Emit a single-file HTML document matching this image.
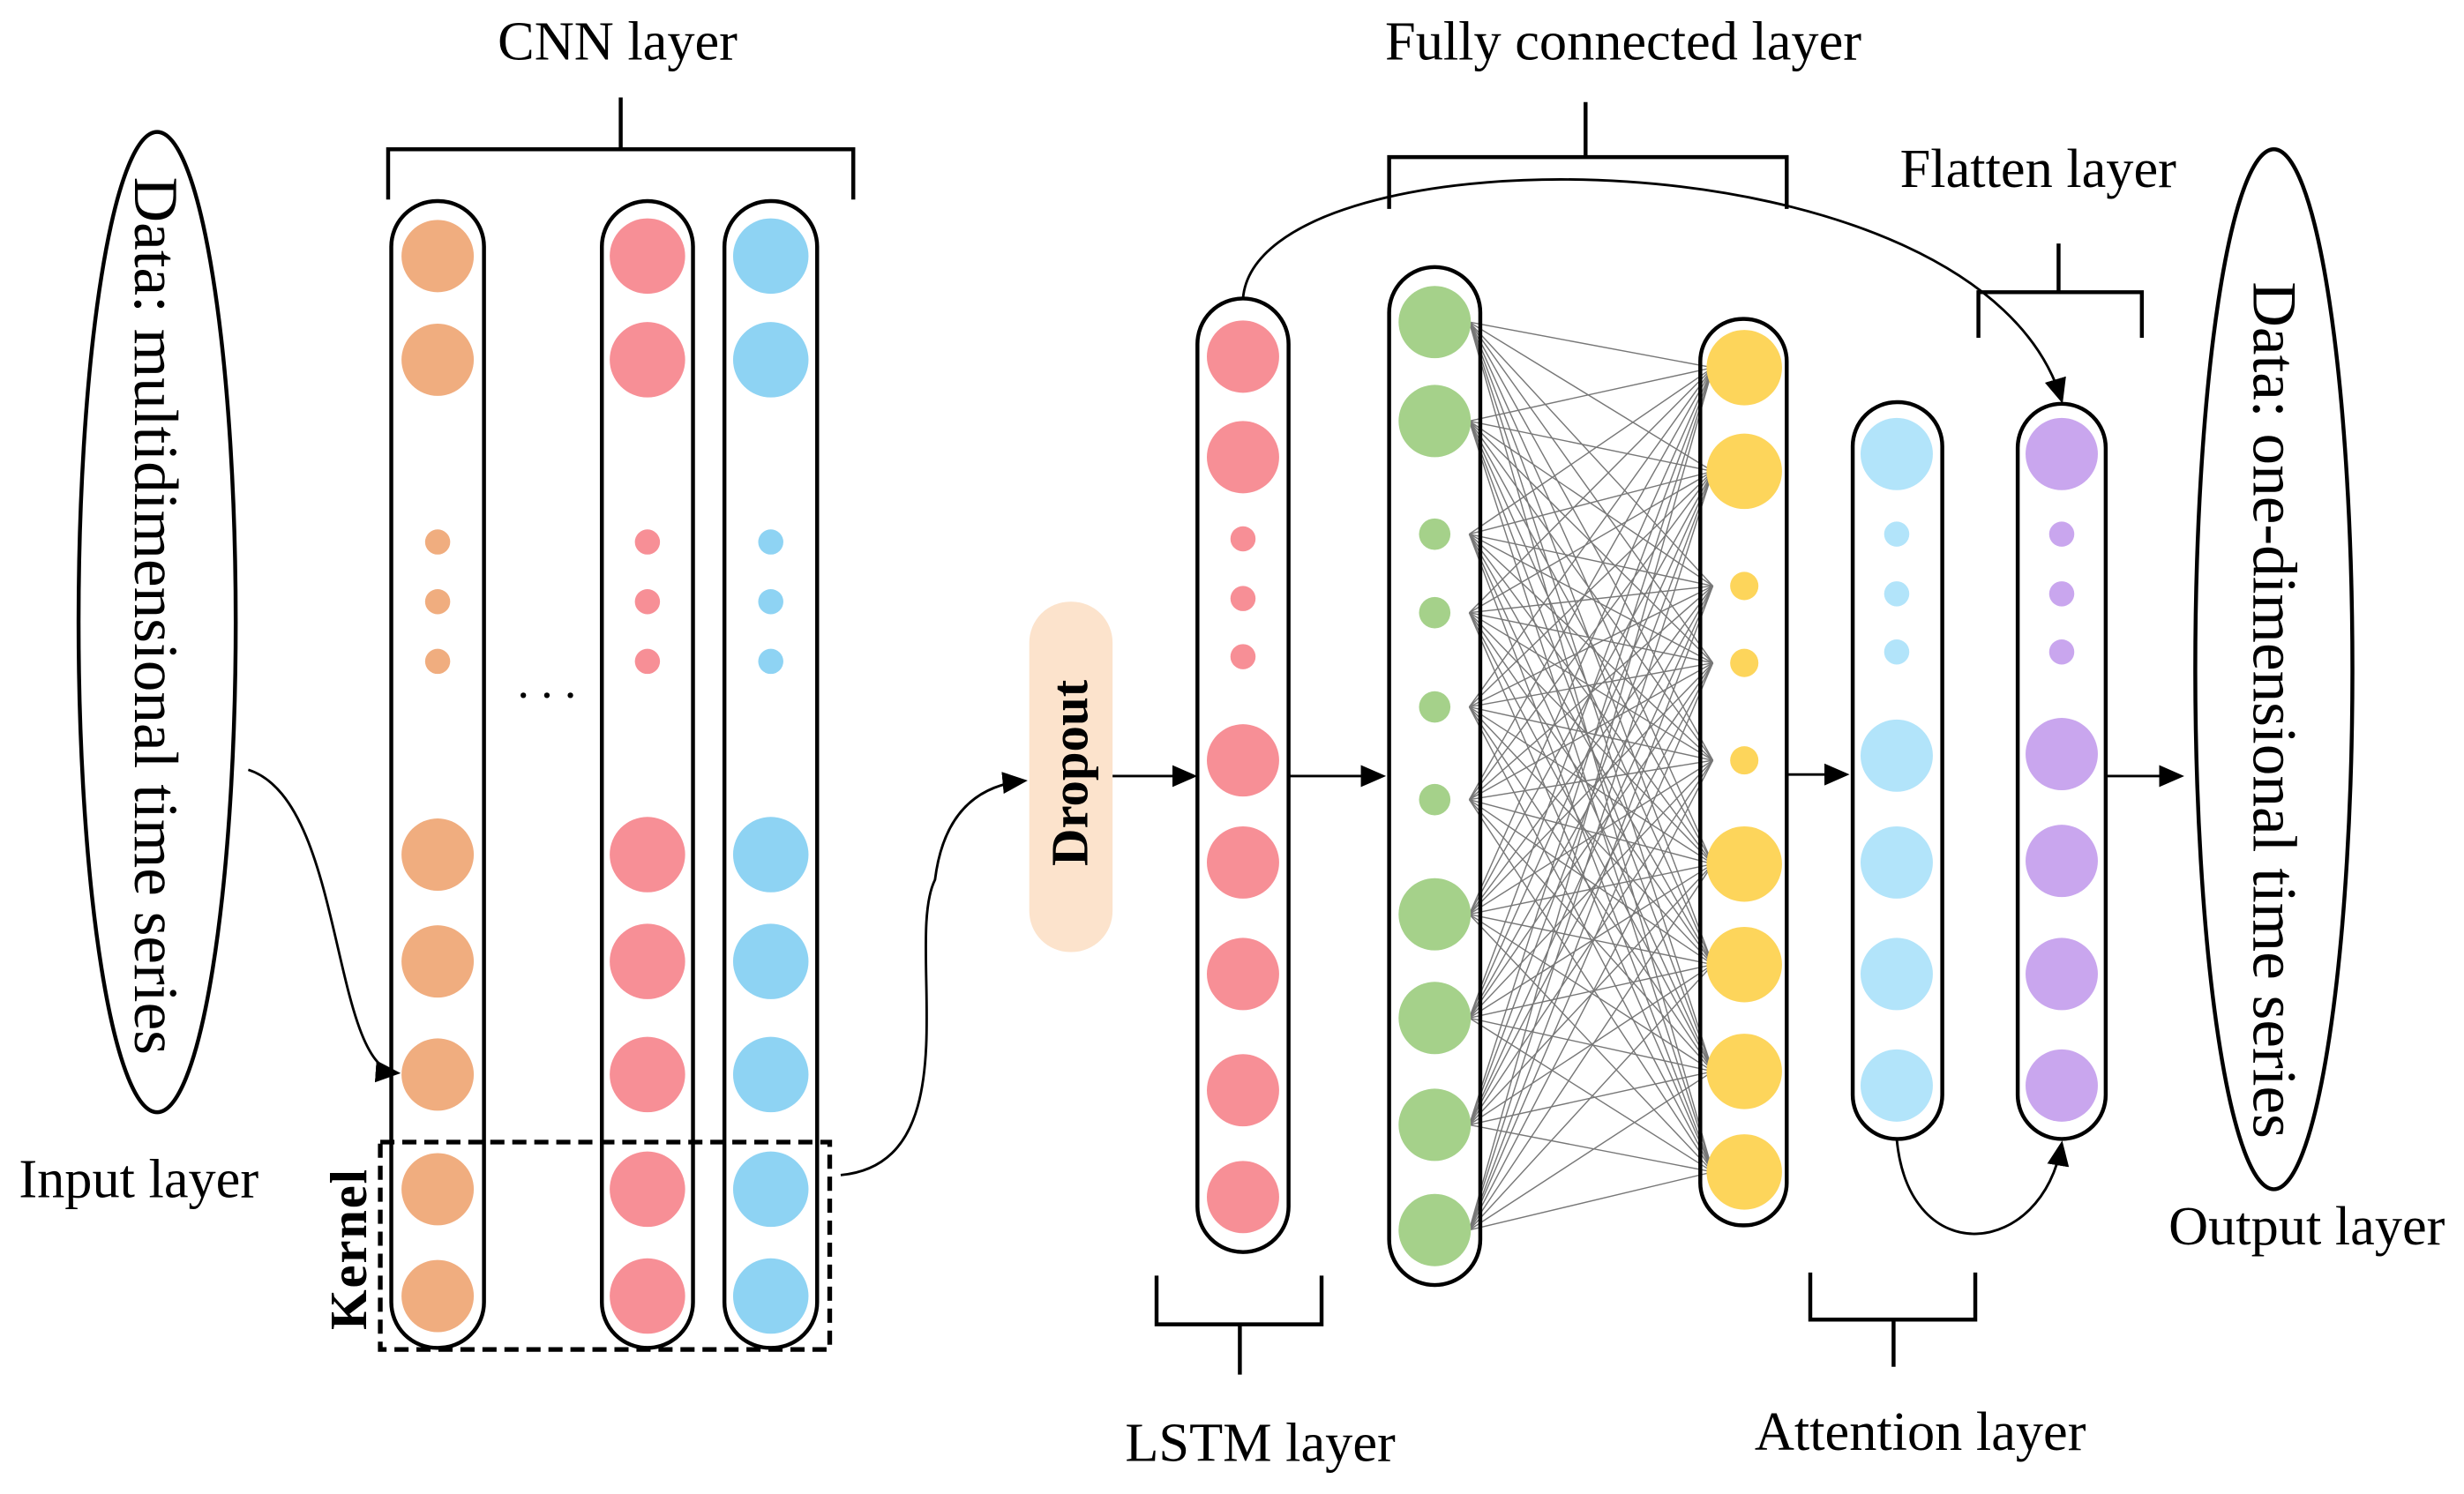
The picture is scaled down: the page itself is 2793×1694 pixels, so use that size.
<!DOCTYPE html>
<html><head><meta charset="utf-8"><style>
html,body{margin:0;padding:0;background:#fff;}
svg{display:block;}
text{font-family:"Liberation Serif",serif;fill:#000;}
</style></head><body>
<svg id="s" width="2793" height="1694" viewBox="0 0 1568 951" xmlns="http://www.w3.org/2000/svg">
<defs><marker id="b" markerWidth="16" markerHeight="14" refX="14" refY="7" orient="auto" markerUnits="userSpaceOnUse"><path d="M0,0 L16,7 L0,14 z" fill="#000"/></marker></defs>
<g id="lines" stroke="#777" stroke-width="0.8"></g>
<ellipse cx="100" cy="396" rx="50" ry="312" fill="none" stroke="#000" stroke-width="2.5"/>
<text transform="translate(86,392) rotate(90)" text-anchor="middle" font-size="40">Data: multidimensional time series</text>
<ellipse cx="1447" cy="426" rx="50" ry="331" fill="none" stroke="#000" stroke-width="2.5"/>
<text transform="translate(1434,452) rotate(90)" text-anchor="middle" font-size="40">Data: one-dimensional time series</text>
<g fill="none" stroke="#000" stroke-width="2.5">
<rect x="249" y="128" width="59" height="730" rx="29"/>
<rect x="383" y="128" width="58" height="730" rx="29"/>
<rect x="461" y="128" width="59" height="730" rx="29"/>
<rect x="762" y="190" width="58" height="607" rx="29"/>
<rect x="884" y="170" width="58" height="648" rx="29"/>
<rect x="1082" y="203" width="55" height="577" rx="27"/>
<rect x="1179" y="256" width="57" height="469" rx="28"/>
<rect x="1284" y="257" width="56" height="468" rx="28"/>
<path d="M247,127 V95 H543 V127 M395,95 V62"/>
<path d="M884,133 V100 H1137 V133 M1009,100 V65"/>
<path d="M1259,215 V186 H1363 V215 M1310,186 V155"/>
<path d="M736,812 V843 H841 V812 M789,843 V875"/>
<path d="M1152,810 V840 H1257 V810 M1205,840 V870"/>
</g>
<rect x="242" y="727" width="286" height="132" fill="none" stroke="#000" stroke-width="3" stroke-dasharray="9,5"/>
<rect x="655" y="383" width="53" height="223" rx="26" fill="#FCE3CC"/>
<text transform="translate(692,492) rotate(-90)" text-anchor="middle" font-size="33" font-weight="bold">Dropout</text>
<text transform="translate(233,795) rotate(-90)" text-anchor="middle" font-size="33" font-weight="bold" letter-spacing="1">Kernel</text>
<g id="c"></g>
<g fill="none" stroke="#000" stroke-width="1.6">
<path d="M158,490 C220,510 210,680 253,683" marker-end="url(#b)"/>
<path d="M535,748 C620,740 575,600 595,560 C600,520 620,500 652,497" marker-end="url(#b)"/>
<path d="M708,494 H760" marker-end="url(#b)"/>
<path d="M820,494 H880" marker-end="url(#b)"/>
<path d="M1137,493 H1175" marker-end="url(#b)"/>
<path d="M1340,494 H1388" marker-end="url(#b)"/>
<path d="M791,190 C800,80 1260,80 1312,255" marker-end="url(#b)"/>
<path d="M1207,725 C1215,810 1300,800 1312,728" marker-end="url(#b)"/>
</g>
<text x="348" y="444" font-size="30" text-anchor="middle">. . .</text>
<g font-size="35">
<text x="393" y="38" text-anchor="middle">CNN layer</text>
<text x="1033" y="38" text-anchor="middle">Fully connected layer</text>
<text x="1297" y="119" text-anchor="middle">Flatten layer</text>
<text x="12" y="762">Input layer</text>
<text x="1380" y="792">Output layer</text>
<text x="802" y="930" text-anchor="middle">LSTM layer</text>
<text x="1222" y="923" text-anchor="middle">Attention layer</text>
</g>
</svg>
<script>
var ns="http://www.w3.org/2000/svg",g=document.getElementById('c'),L=document.getElementById('lines');
function col(x,col,big,small,r,sr){big.forEach(function(y){add(x,y,r,col)});small.forEach(function(y){add(x,y,sr,col)});}
function add(x,y,r,f){var c=document.createElementNS(ns,'circle');c.setAttribute('cx',x);c.setAttribute('cy',y);c.setAttribute('r',r);c.setAttribute('fill',f);g.appendChild(c);}
var cb=[163,229,544,612,684,757,825],cs=[345,383,421];
col(278.5,'#F0AD7F',cb,cs,23,8);col(412,'#F78F96',cb,cs,24,8);col(490.5,'#8ED3F3',cb,cs,24,8);
col(791,'#F78F96',[227,291,484,549,620,694,762],[343,381,418],23,8);
var gb=[205,268,582,648,716,783],gs=[340,390,450,509];
col(913,'#A5D18A',gb,gs,23,10);
var yb=[234,300,550,614,682,746],ys=[373,422,484];
col(1110,'#FDD55B',yb,ys,24,9);
col(1207,'#B2E4FA',[289,481,549,620,691],[340,378,415],23,8);
col(1312,'#C9A6EE',[289,480,548,620,691],[340,378,415],23,8);
var G=gb.concat(gs),Y=yb.concat(ys);
G.forEach(function(a){Y.forEach(function(b){var l=document.createElementNS(ns,'line');l.setAttribute('x1',935);l.setAttribute('y1',a);l.setAttribute('x2',1090);l.setAttribute('y2',b);L.appendChild(l);});});
</script>
</body></html>
